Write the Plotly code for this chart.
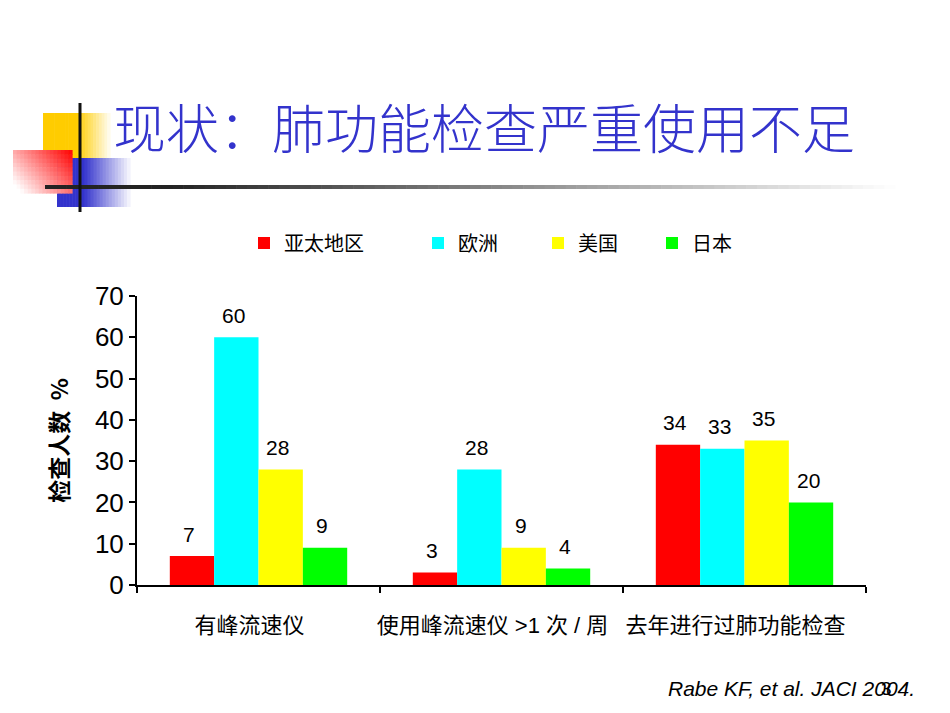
import plotly.graph_objects as go

categories = ["有峰流速仪", "使用峰流速仪 >1 次 / 周", "去年进行过肺功能检查"]
series_names = ["亚太地区", "欧洲", "美国", "日本"]
asia_pacific = [7, 3, 34]
europe = [60, 28, 33]
usa = [28, 9, 35]
japan = [9, 4, 20]
series_values = [asia_pacific, europe, usa, japan]
colors = ["#FF0000", "#00FFFF", "#FFFF00", "#00FF00"]
yticks = [0, 10, 20, 30, 40, 50, 60, 70]

W, H = 950, 713
L, R, T, B = 137, 866, 296, 585
CJK = "Liberation Sans, Noto Sans CJK SC, sans-serif"


def px(x):
    return (x - L) / (R - L)


def py(y):
    return (B - y) / (B - T)


fig = go.Figure()
legend_x = [244, 418, 538, 652]
for i, (name, vals, col) in enumerate(zip(series_names, series_values, colors)):
    lg = "legend" if i == 0 else f"legend{i+1}"
    fig.add_trace(go.Bar(x=categories, y=vals, name=name, marker_color=col,
                         marker_line_width=0, legend=lg))

# value labels
bar_px = (R - L) / 3 * (1 - 0.27) / 4
annotations = []
for i, vals in enumerate(series_values):
    for c, v in zip(categories, vals):
        annotations.append(dict(x=c, y=v, xref="x", yref="y", text=str(v), showarrow=False,
                                xshift=(i - 1.5) * bar_px - 3, yshift=22,
                                font=dict(family=CJK, size=21, color="black")))

# title
annotations.append(dict(x=px(111), y=py(126), xref="paper", yref="paper", xanchor="left",
                        yanchor="middle", text="现状：肺功能检查严重使用不足", showarrow=False,
                        font=dict(family="Noto Sans CJK SC", size=53, color="#3333CC", weight=300)))
# citation
annotations.append(dict(x=px(917), y=py(688), xref="paper", yref="paper", xanchor="right",
                        yanchor="middle", text="<i>Rabe KF, et al. JACI 2004.</i>", showarrow=False,
                        font=dict(family="Liberation Sans", size=21, color="black")))
annotations.append(dict(x=px(886), y=py(688), xref="paper", yref="paper", xanchor="center",
                        yanchor="middle", text="3", showarrow=False,
                        font=dict(family="Liberation Sans", size=19, color="black")))

shapes = []


def rect(x0, y0, x1, y1, color):
    shapes.append(dict(type="rect", xref="paper", yref="paper", x0=px(x0), x1=px(x1),
                       y0=py(y1), y1=py(y0), fillcolor=color, line_width=0, layer="above"))


def mix(c1, c2, t):
    t = max(0.0, min(1.0, t))
    return "rgb(%d,%d,%d)" % tuple(round(a + (b - a) * t) for a, b in zip(c1, c2))


white = (255, 255, 255)
# yellow block, fading to the right
n = 24
for k in range(n):
    x0 = 43 + (110 - 43) * k / n
    x1 = 43 + (110 - 43) * (k + 1) / n
    rect(x0, 113, x1 + 0.6, 158, mix((255, 204, 0), white, (x0 - 76) / 34))
# blue block, fading to the right
for k in range(n):
    x0 = 57 + (130 - 57) * k / n
    x1 = 57 + (130 - 57) * (k + 1) / n
    rect(x0, 158, x1 + 0.6, 207, mix((51, 51, 204), white, (x0 - 82) / 48))
# red block, diagonal gradient
nx, ny = 16, 10
for a in range(nx):
    for b in range(ny):
        x0 = 13 + (72 - 13) * a / nx
        x1 = 13 + (72 - 13) * (a + 1) / nx
        y0 = 150 + (193 - 150) * b / ny
        y1 = 150 + (193 - 150) * (b + 1) / ny
        t = 1 - (0.6 * (a + 0.5) / nx + 0.4 * (1 - (b + 0.5) / ny))
        rect(x0, y0, x1 + 0.6, y1 + 0.6, mix((255, 0, 0), white, t * 1.1))
# horizontal line fading to the right
m = 80
for k in range(m):
    x0 = 45 + (895 - 45) * k / m
    x1 = 45 + (895 - 45) * (k + 1) / m
    rect(x0, 185, x1 + 0.6, 189, mix((35, 35, 35), white, (x0 - 165) / 725))
# vertical line
shapes.append(dict(type="line", xref="paper", yref="paper", x0=px(80), x1=px(80),
                   y0=py(103), y1=py(212), line=dict(color="#111111", width=3), layer="above"))

layout_legends = {}
for i, lx in enumerate(legend_x):
    key = "legend" if i == 0 else f"legend{i+1}"
    layout_legends[key] = dict(x=lx / W, y=1 - 243 / H, xref="container", yref="container",
                               xanchor="left", yanchor="middle", orientation="h",
                               font=dict(family="Noto Sans CJK SC", size=20, color="black"),
                               bgcolor="rgba(0,0,0,0)", itemclick=False)

fig.update_layout(
    width=W, height=H, autosize=False,
    margin=dict(l=L, r=W - R, t=T, b=H - B, pad=0),
    paper_bgcolor="white", plot_bgcolor="white",
    barmode="group", bargap=0.27, bargroupgap=0,
    showlegend=True,
    annotations=annotations, shapes=shapes,
    xaxis=dict(type="category", showline=True, linecolor="black", linewidth=2,
               ticks="outside", ticklen=6, tickwidth=2, tickcolor="black", tickson="boundaries",
               tickfont=dict(family=CJK, size=22, color="black"), showgrid=False,
               ticklabelstandoff=20, ticklabelshift=-9),
    yaxis=dict(range=[0, 70], tickvals=yticks, showline=True, linecolor="black", linewidth=2,
               ticks="outside", ticklen=6, tickwidth=2, tickcolor="black", showgrid=False,
               zeroline=False, tickfont=dict(family="Liberation Sans", size=26, color="black"),
               title=dict(text="检查人数  %", standoff=20,
                          font=dict(family="Noto Sans CJK SC", size=23, color="black", weight=700))),
    **layout_legends,
)

fig.write_html("out.html")
